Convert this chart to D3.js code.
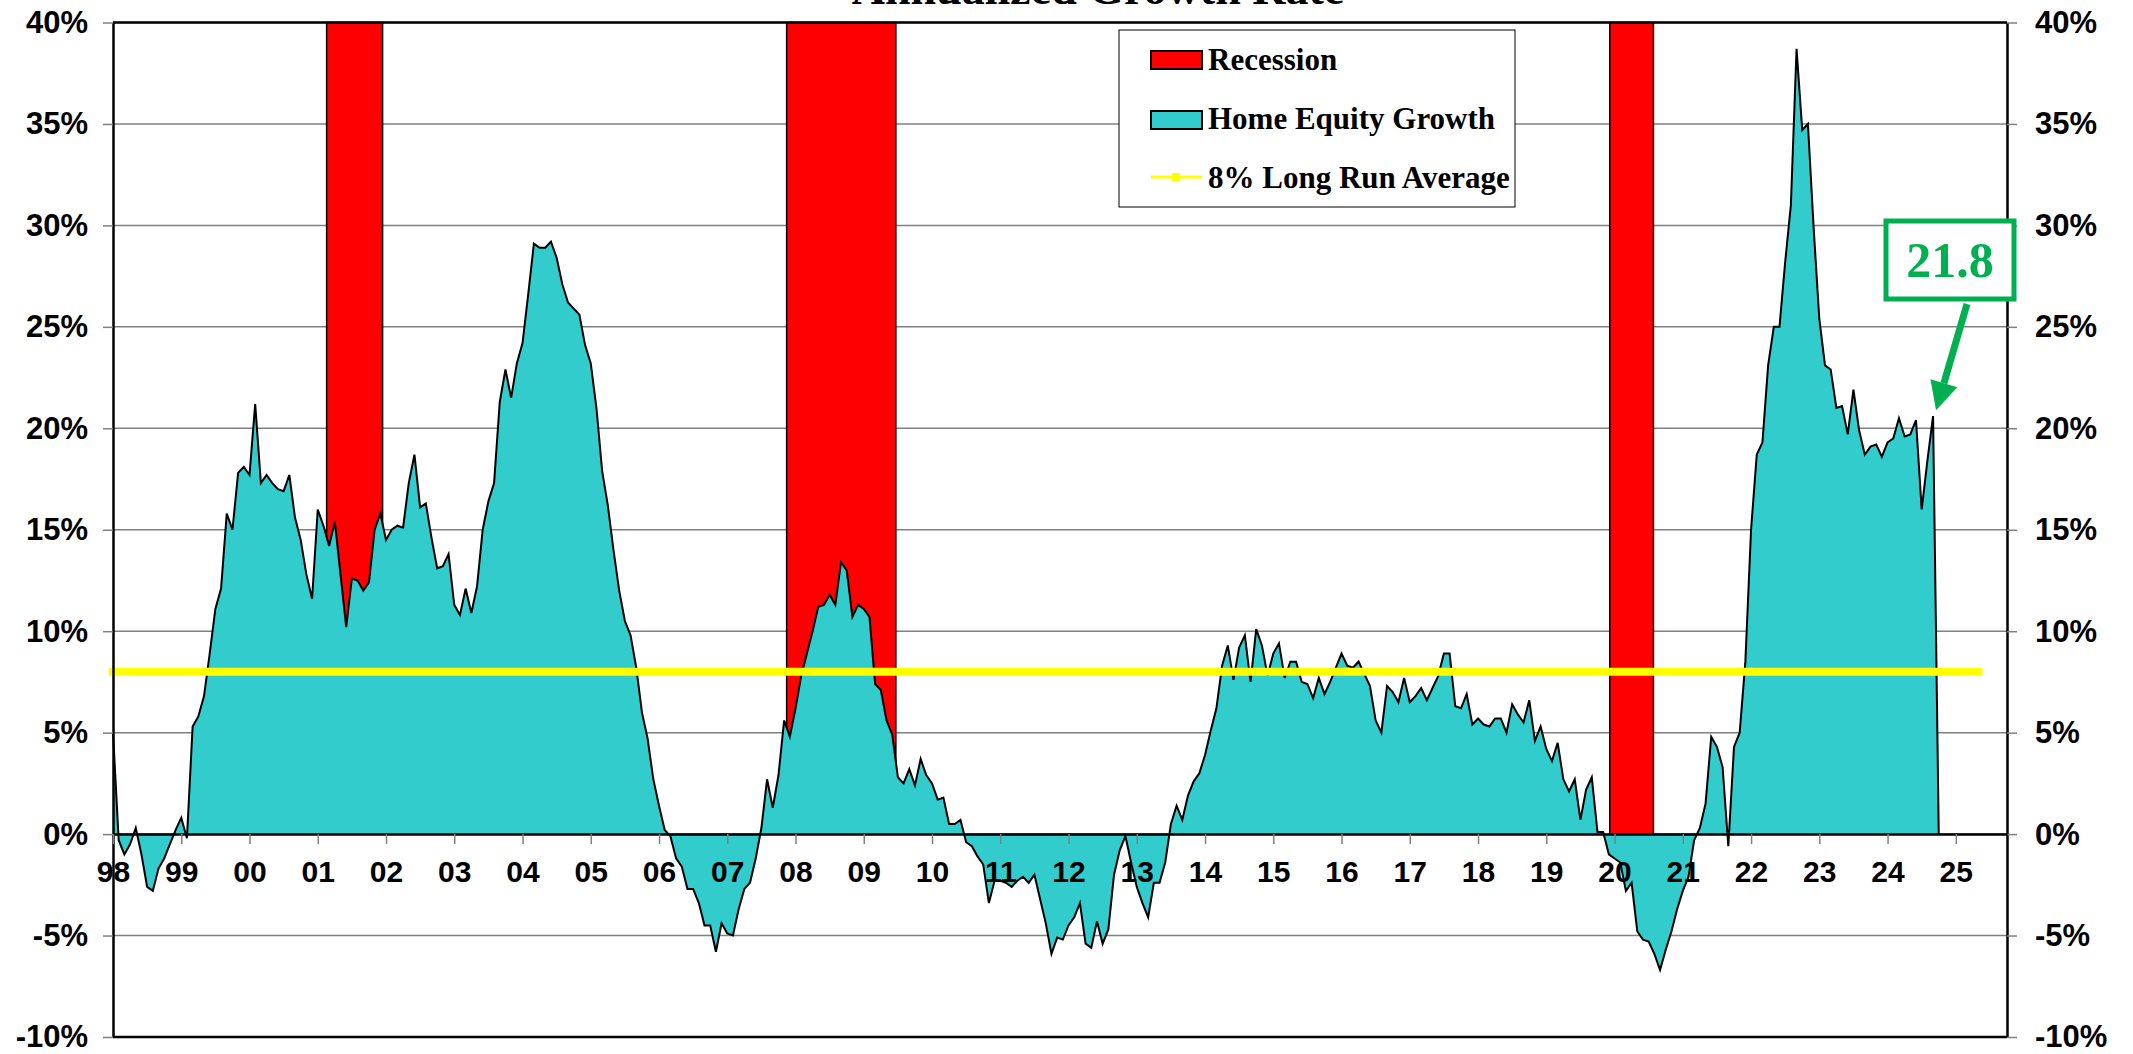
<!DOCTYPE html>
<html>
<head>
<meta charset="utf-8">
<script src="https://cdn.jsdelivr.net/npm/d3@7"></script>
<style>
  body { margin: 0; background: #fff; }
</style>
</head>
<body>
<script>
// home equity growth, annualized %, one value per month starting Jan 1998
var startYear = 1998;
var growth = [
   5.0, -0.3, -1.0, -0.5,  0.3, -1.0, -2.6, -2.8, -1.7, -1.2, -0.5,  0.2,  // 98
   0.8, -0.2,  5.3,  5.8,  6.8,  8.9, 11.1, 12.1, 15.8, 15.0, 17.8, 18.1,  // 99
  17.7, 21.2, 17.3, 17.7, 17.3, 17.0, 16.9, 17.7, 15.6, 14.5, 12.8, 11.6,  // 00
  16.0, 15.2, 14.2, 15.4, 12.8, 10.2, 12.6, 12.5, 12.0, 12.4, 15.0, 15.8,  // 01
  14.5, 15.0, 15.2, 15.1, 17.3, 18.7, 16.1, 16.3, 14.6, 13.1, 13.2, 13.8,  // 02
  11.3, 10.8, 12.1, 10.9, 12.2, 15.0, 16.4, 17.3, 21.3, 22.9, 21.5, 23.2,  // 03
  24.2, 26.6, 29.1, 28.9, 28.9, 29.2, 28.4, 27.1, 26.2, 25.9, 25.6, 24.1,  // 04
  23.2, 21.0, 17.9, 16.2, 14.0, 12.0, 10.5,  9.8,  8.2,  6.0,  4.7,  2.7,  // 05
   1.4,  0.2, -0.1, -1.2, -1.6, -2.7, -2.7, -3.4, -4.5, -4.5, -5.8, -4.4,  // 06
  -4.9, -5.0, -3.7, -2.7, -2.4, -1.2,  0.3,  2.7,  1.3,  2.9,  5.6,  4.8,  // 07
   6.2,  7.8,  8.9, 10.0, 11.2, 11.3, 11.8, 11.3, 13.4, 13.0, 10.7, 11.3,  // 08
  11.1, 10.7,  7.4,  7.1,  5.6,  4.9,  2.8,  2.5,  3.2,  2.4,  3.7,  2.9,  // 09
   2.5,  1.7,  1.8,  0.5,  0.5,  0.7, -0.4, -0.6, -1.1, -1.5, -3.4, -2.3,  // 10
  -2.3, -2.4, -2.6, -2.3, -2.1, -2.4, -2.0, -3.2, -4.4, -5.9, -5.1, -5.2,  // 11
  -4.5, -4.1, -3.4, -5.4, -5.6, -4.3, -5.4, -4.7, -2.0, -0.8, -0.1, -1.4,  // 12
  -2.6, -3.4, -4.1, -2.4, -2.4, -1.4,  0.5,  1.4,  0.7,  1.9,  2.6,  3.0,  // 13
   3.9,  5.1,  6.2,  8.3,  9.3,  7.6,  9.2,  9.8,  7.5, 10.1,  9.3,  7.8,  // 14
   8.9,  9.4,  7.7,  8.5,  8.5,  7.5,  7.4,  6.7,  7.7,  6.9,  7.5,  8.2,  // 15
   8.9,  8.3,  8.2,  8.5,  7.9,  7.3,  5.6,  5.0,  7.3,  7.0,  6.5,  7.7,  // 16
   6.5,  6.8,  7.2,  6.6,  7.2,  7.8,  8.9,  8.9,  6.3,  6.2,  6.9,  5.4,  // 17
   5.7,  5.4,  5.3,  5.7,  5.7,  5.0,  6.4,  5.9,  5.5,  6.6,  4.6,  5.3,  // 18
   4.2,  3.6,  4.5,  2.7,  2.1,  2.7,  0.7,  2.2,  2.8,  0.1,  0.1, -1.0,  // 19
  -1.2, -1.4, -2.8, -2.4, -4.8, -5.2, -5.3, -5.9, -6.7, -5.7, -4.8, -3.7,  // 20
  -2.8, -2.1, -0.3,  0.3,  1.5,  4.8,  4.3,  3.3, -0.6,  4.3,  5.0,  8.5,  // 21
  15.0, 18.7, 19.3, 23.1, 25.0, 25.0, 28.2, 31.0, 38.7, 34.7, 35.0, 29.9,  // 22
  25.4, 23.1, 22.9, 21.0, 21.1, 19.7, 21.9, 19.9, 18.7, 19.1, 19.2, 18.6,  // 23
  19.3, 19.5, 20.5, 19.6, 19.7, 20.4, 16.0, 18.4, 20.6,  0.0               // 24
];

// recessions as [start, end] in decimal years
var recessions = [[2001.13, 2001.95], [2007.87, 2009.47], [2019.93, 2020.57]];

var longRunAvg = 8;
var avgSpan = [1997.94, 2025.39];

var yTicks = [-10, -5, 0, 5, 10, 15, 20, 25, 30, 35, 40];
var xTicks = d3.range(1998, 2026);
var xTickLabels = ["98","99","00","01","02","03","04","05","06","07","08","09","10","11",
                   "12","13","14","15","16","17","18","19","20","21","22","23","24","25"];

var legendLabels = ["Recession", "Home Equity Growth", "8% Long Run Average"];
var calloutText = "21.8";

var width = 2133, height = 1054;
var plot = {left: 113, right: 2007, top: 22.5, bottom: 1037};

var sans = "'Liberation Sans', Arial, sans-serif";
var serif = "'Liberation Serif', 'Times New Roman', serif";

var x = d3.scaleLinear().domain([1998, 2025.75]).range([plot.left, plot.right]);
var y = d3.scaleLinear().domain([-10, 40]).range([plot.bottom, plot.top]);

var svg = d3.select("body").append("svg")
    .attr("width", width)
    .attr("height", height);

// title (mostly cut off at the top like the original)
svg.append("text")
    .attr("x", 1098)
    .attr("y", 4)
    .attr("text-anchor", "middle")
    .style("font-family", serif)
    .style("font-weight", "bold")
    .style("font-size", "46px")
    .text("Annualized Growth Rate");

// gridlines
svg.append("g").selectAll("line")
    .data(yTicks)
    .enter().append("line")
    .attr("x1", plot.left)
    .attr("x2", plot.right)
    .attr("y1", d => y(d))
    .attr("y2", d => y(d))
    .attr("stroke", "#808080")
    .attr("stroke-width", 1.5);

// recession bars
svg.append("g").selectAll("rect")
    .data(recessions)
    .enter().append("rect")
    .attr("x", d => x(d[0]))
    .attr("y", y(40))
    .attr("width", d => x(d[1]) - x(d[0]))
    .attr("height", y(0) - y(40))
    .attr("fill", "#ff0000")
    .attr("stroke", "#000")
    .attr("stroke-width", 1.5);

// home equity area
var monthX = function(d, i) { return x(startYear + i / 12); };

var area = d3.area()
    .x(monthX)
    .y0(y(0))
    .y1(d => y(d));

var valueline = d3.line()
    .x(monthX)
    .y(d => y(d));

svg.append("path")
    .datum(growth)
    .attr("d", area)
    .attr("fill", "#33cccc");

svg.append("path")
    .datum(growth)
    .attr("d", valueline)
    .attr("fill", "none")
    .attr("stroke", "#000")
    .attr("stroke-width", 2)
    .attr("stroke-linejoin", "miter");

// 8% long run average
svg.append("line")
    .attr("x1", x(avgSpan[0]))
    .attr("x2", x(avgSpan[1]))
    .attr("y1", y(longRunAvg))
    .attr("y2", y(longRunAvg))
    .attr("stroke", "#ffff00")
    .attr("stroke-width", 8);

// axes
var yAxisLeft = svg.append("g")
    .attr("transform", "translate(" + plot.left + ",0)")
    .call(d3.axisLeft(y).tickValues(yTicks).tickFormat(d => d + "%")
        .tickSize(10).tickSizeOuter(0).tickPadding(15));

var yAxisRight = svg.append("g")
    .attr("transform", "translate(" + plot.right + ",0)")
    .call(d3.axisRight(y).tickValues(yTicks).tickFormat(d => d + "%")
        .tickSize(10).tickSizeOuter(0).tickPadding(18));

var xAxis = svg.append("g")
    .attr("transform", "translate(0," + y(0) + ")")
    .call(d3.axisBottom(x).tickValues(xTicks).tickFormat((d, i) => xTickLabels[i])
        .tickSize(10).tickSizeOuter(0).tickPadding(17));

[yAxisLeft, yAxisRight, xAxis].forEach(function(g) {
    g.select(".domain").attr("stroke", "#000").attr("stroke-width", 2.5);
    g.selectAll(".tick line").attr("stroke", "#808080").attr("stroke-width", 1.5);
    g.selectAll(".tick text")
        .attr("fill", "#000")
        .style("font-family", sans)
        .style("font-weight", "bold")
        .style("font-size", "30px");
});

[yAxisLeft, yAxisRight].forEach(function(g) {
    g.selectAll(".tick text").style("font-size", "31px");
});

// top and bottom frame
[40, -10].forEach(function(v) {
    svg.append("line")
        .attr("x1", plot.left)
        .attr("x2", plot.right)
        .attr("y1", y(v))
        .attr("y2", y(v))
        .attr("stroke", "#000")
        .attr("stroke-width", 2.5);
});

// legend
var legend = svg.append("g").attr("transform", "translate(1119,30)");

legend.append("rect")
    .attr("width", 396)
    .attr("height", 177)
    .attr("fill", "#fff")
    .attr("stroke", "#000")
    .attr("stroke-width", 1);

legend.append("rect")
    .attr("x", 32).attr("y", 21).attr("width", 51).attr("height", 18)
    .attr("fill", "#ff0000").attr("stroke", "#000").attr("stroke-width", 2);

legend.append("rect")
    .attr("x", 32).attr("y", 81).attr("width", 51).attr("height", 18)
    .attr("fill", "#33cccc").attr("stroke", "#000").attr("stroke-width", 2);

legend.append("line")
    .attr("x1", 32).attr("x2", 83).attr("y1", 147).attr("y2", 147)
    .attr("stroke", "#ffff00").attr("stroke-width", 3);

legend.append("rect")
    .attr("x", 53).attr("y", 143).attr("width", 8).attr("height", 8)
    .attr("fill", "#ffff00");

legend.selectAll("text.label")
    .data(legendLabels)
    .enter().append("text")
    .attr("class", "label")
    .attr("x", 89)
    .attr("y", (d, i) => 40 + i * 59)
    .style("font-family", serif)
    .style("font-weight", "bold")
    .style("font-size", "31px")
    .text(d => d);

// 21.8 callout pointing at the latest reading
var lastI = growth.length - 2;
var tip = [monthX(growth[lastI], lastI) + 3, y(growth[lastI]) - 6];
var tail = [1967, 304];

var callout = svg.append("g");

callout.append("rect")
    .attr("x", 1886)
    .attr("y", 221)
    .attr("width", 128)
    .attr("height", 78)
    .attr("fill", "#fff")
    .attr("stroke", "#00b050")
    .attr("stroke-width", 5);

callout.append("text")
    .attr("x", 1950)
    .attr("y", 277)
    .attr("text-anchor", "middle")
    .attr("fill", "#00b050")
    .style("font-family", serif)
    .style("font-weight", "bold")
    .style("font-size", "50px")
    .text(calloutText);

var dx = tip[0] - tail[0], dy = tip[1] - tail[1];
var len = Math.sqrt(dx * dx + dy * dy);
var ux = dx / len, uy = dy / len;
var headLen = 28, headW = 14;
var base = [tip[0] - ux * headLen, tip[1] - uy * headLen];

callout.append("line")
    .attr("x1", tail[0]).attr("y1", tail[1])
    .attr("x2", base[0]).attr("y2", base[1])
    .attr("stroke", "#00b050")
    .attr("stroke-width", 7);

callout.append("polygon")
    .attr("points", [
        tip,
        [base[0] - uy * headW, base[1] + ux * headW],
        [base[0] + uy * headW, base[1] - ux * headW]
    ].map(p => p.join(",")).join(" "))
    .attr("fill", "#00b050");
</script>
</body>
</html>
